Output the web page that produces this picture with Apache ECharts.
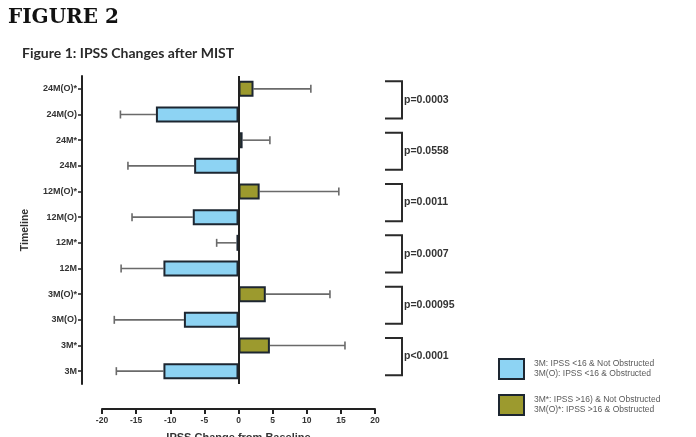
<!DOCTYPE html>
<html>
<head>
<meta charset="utf-8">
<script src="https://cdn.jsdelivr.net/npm/echarts@6/dist/echarts.min.js"></script>
<style>
  html, body { margin: 0; padding: 0; background: #fff; }
  #chart { width: 696px; height: 437px; }
</style>
</head>
<body>
<div id="chart"></div>
<script>
// Timepoints, listed bottom to top along the category axis
const categories = ['3M', '3M*', '3M(O)', '3M(O)*', '12M', '12M*', '12M(O)', '12M(O)*', '24M', '24M*', '24M(O)', '24M(O)*'];

// Mean IPSS change from baseline, IPSS <16 groups (null where the group does not apply)
const lowMeans = [-11.0, null, -8.0, null, -11.0, null, -6.7, null, -6.5, null, -12.1, null];
// Standard deviation for the same groups
const lowSD = [6.9, null, 10.2, null, 6.2, null, 8.9, null, 9.7, null, 5.2, null];

// Mean IPSS change from baseline, IPSS >16 groups
const highMeans = [null, 4.6, null, 4.0, null, -0.3, null, 3.1, null, 0.6, null, 2.2];
const highSD = [null, 11.0, null, 9.4, null, 2.9, null, 11.6, null, 4.0, null, 8.4];

// Comparison brackets: [upper category, lower category, p-value text]
const comparisons = [
  ['3M*', '3M', 'p<0.0001'],
  ['3M(O)*', '3M(O)', 'p=0.00095'],
  ['12M*', '12M', 'p=0.0007'],
  ['12M(O)*', '12M(O)', 'p=0.0011'],
  ['24M*', '24M', 'p=0.0558'],
  ['24M(O)*', '24M(O)', 'p=0.0003']
];

const lowName = '3M: IPSS <16 & Not Obstructed\n3M(O): IPSS <16 & Obstructed';
const highName = '3M*: IPSS >16) & Not Obstructed\n3M(O)*: IPSS >16 & Obstructed';

const FONT = '"Liberation Sans", Arial, sans-serif';
const BAR_BORDER = '#1d2631';

// Error-bar rows: [category index, mean, sd]
function errorRows(means, sds) {
  const rows = [];
  means.forEach((m, i) => { if (m !== null) rows.push([i, m, sds[i]]); });
  return rows;
}
const errorData = errorRows(lowMeans, lowSD).concat(errorRows(highMeans, highSD));

// One-sided SD whisker pointing away from zero, with an end cap
function renderError(params, api) {
  const cat = api.value(0);
  const mean = api.value(1);
  const sd = api.value(2);
  const end = mean >= 0 ? mean + sd : mean - sd;
  const a = api.coord([mean, cat]);
  const b = api.coord([end, cat]);
  const cap = 4;
  const style = { stroke: '#6a6a6a', lineWidth: 1.6 };
  return {
    type: 'group',
    children: [
      { type: 'line', shape: { x1: a[0], y1: a[1], x2: b[0], y2: b[1] }, style },
      { type: 'line', shape: { x1: b[0], y1: b[1] - cap, x2: b[0], y2: b[1] + cap }, style }
    ]
  };
}

const bracketData = comparisons.map(c => [categories.indexOf(c[0]), categories.indexOf(c[1]), c[2]]);

// Square bracket to the right of the plot joining two rows, with its p-value
function renderBracket(params, api) {
  const top = api.coord([20, api.value(0)]);
  const bottom = api.coord([20, api.value(1)]);
  const x0 = top[0] + 10;
  const x1 = x0 + 17;
  const y0 = top[1] - 7.5;
  const y1 = bottom[1] + 4;
  const style = { stroke: '#2a2a2a', lineWidth: 2, fill: null };
  return {
    type: 'group',
    children: [
      { type: 'polyline', shape: { points: [[x0, y0], [x1, y0], [x1, y1], [x0, y1]] }, style },
      {
        type: 'text',
        style: {
          x: x1 + 2, y: (y0 + y1) / 2,
          text: bracketData[params.dataIndex][2],
          fill: '#333', font: 'bold 10.5px ' + FONT,
          textVerticalAlign: 'middle', textAlign: 'left'
        }
      }
    ]
  };
}

const chart = echarts.init(document.getElementById('chart'), null, { renderer: 'canvas' });

chart.setOption({
  backgroundColor: '#fff',
  animation: false,
  title: [
    {
      text: 'FIGURE 2', left: 3, top: 3,
      textStyle: { fontFamily: '"DejaVu Serif", serif', fontWeight: 'bold', fontSize: 20, color: '#111' }
    },
    {
      text: 'Figure 1: IPSS Changes after MIST', left: 17, top: 41,
      textStyle: { fontFamily: 'Lato, "Open Sans", sans-serif', fontWeight: 'bold', fontSize: 14, color: '#2a2a2a' }
    }
  ],
  legend: {
    orient: 'vertical',
    left: 493, top: 353,
    itemWidth: 25, itemHeight: 20, itemGap: 14,
    icon: 'rect',
    data: [lowName, highName],
    textStyle: { fontFamily: FONT, fontSize: 8.5, lineHeight: 10, color: '#5a5a5a', padding: [0, 0, 0, 5] },
    selectedMode: false
  },
  grid: { left: 102, right: 321, top: 76, bottom: 53, containLabel: false, outerBoundsMode: 'none' },
  xAxis: {
    type: 'value',
    min: -20, max: 20, interval: 5,
    offset: 25,
    name: 'IPSS Change from Baseline',
    nameLocation: 'middle', nameGap: 23,
    nameTextStyle: { fontFamily: FONT, fontWeight: 'bold', fontSize: 11, color: '#333' },
    axisLine: { show: true, onZero: false, lineStyle: { color: '#222', width: 2 } },
    axisTick: { show: true, length: 5, lineStyle: { color: '#222', width: 2 } },
    axisLabel: { fontFamily: FONT, fontWeight: 'bold', fontSize: 8.5, color: '#333', margin: 7 },
    splitLine: { show: false }
  },
  yAxis: {
    type: 'category',
    data: categories,
    offset: 20,
    name: 'Timeline',
    nameLocation: 'middle', nameGap: 51, nameRotate: 90,
    nameTextStyle: { fontFamily: FONT, fontWeight: 'bold', fontSize: 10.5, color: '#333' },
    axisLine: { show: true, onZero: false, lineStyle: { color: '#222', width: 2 } },
    axisTick: { show: true, alignWithLabel: true, length: 4, lineStyle: { color: '#222', width: 1.5 } },
    axisLabel: { fontFamily: FONT, fontWeight: 'bold', fontSize: 9, color: '#333', margin: 5 },
    splitLine: { show: false }
  },
  series: [
    {
      type: 'custom',
      name: 'error',
      renderItem: renderError,
      data: errorData,
      encode: { x: [1], y: 0 },
      z: 1,
      silent: true
    },
    {
      type: 'bar',
      name: lowName,
      data: lowMeans,
      barWidth: 16,
      barGap: '-100%',
      itemStyle: { color: '#8dd3f3', borderColor: BAR_BORDER, borderWidth: 2 },
      z: 3,
      markLine: {
        silent: true, symbol: 'none', label: { show: false },
        lineStyle: { color: '#222', width: 2, type: 'solid' },
        data: [{ xAxis: 0 }]
      }
    },
    {
      type: 'bar',
      name: highName,
      data: highMeans,
      barWidth: 16,
      itemStyle: { color: '#9c9a2e', borderColor: BAR_BORDER, borderWidth: 2 },
      z: 3
    },
    {
      type: 'custom',
      name: 'comparisons',
      renderItem: renderBracket,
      data: bracketData.map(d => [d[0], d[1]]),
      encode: { y: [0, 1] },
      clip: false,
      silent: true
    }
  ]
});
</script>
</body>
</html>
